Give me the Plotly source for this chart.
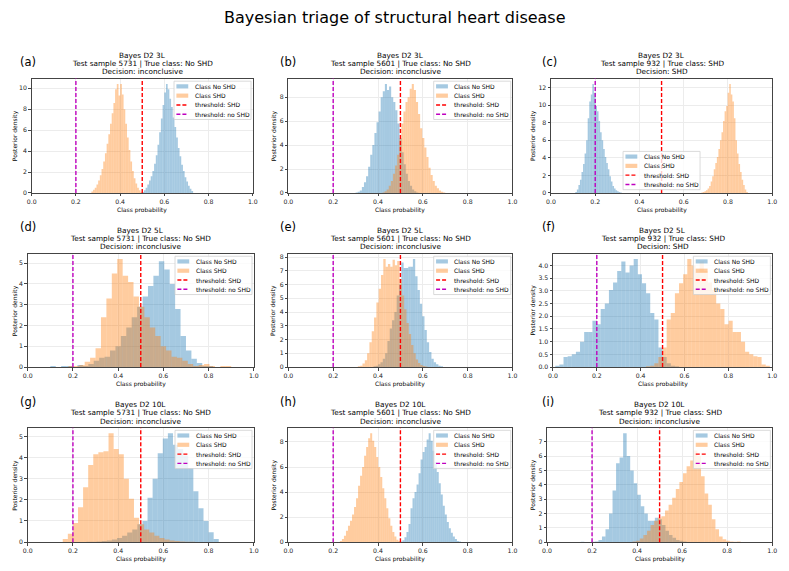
import numpy as np
import plotly.graph_objects as go

W, H = 789, 571

# ---------------- data ----------------
panel_tags = ["(a)", "(b)", "(c)", "(d)", "(e)", "(f)", "(g)", "(h)", "(i)"]
models = ["Bayes D2 3L"] * 3 + ["Bayes D2 5L"] * 3 + ["Bayes D2 10L"] * 3
sample_ids = [5731, 5601, 932] * 3
true_classes = ["No SHD", "No SHD", "SHD"] * 3
decisions = ["inconclusive", "inconclusive", "SHD",
             "inconclusive", "inconclusive", "SHD",
             "inconclusive", "inconclusive", "inconclusive"]
class_names = ["Class No SHD", "Class SHD"]
threshold_names = ["threshold: SHD", "threshold: no SHD"]
threshold_shd = 0.5
threshold_no_shd = 0.2
x_ticks = [0.0, 0.2, 0.4, 0.6, 0.8, 1.0]
y_tick_steps = [2, 2, 2, 1, 1, 0.5, 1, 2, 1]

# posterior-sample histograms: (min, max) range and 30 density values each
noshd_range_a = (0.50, 0.73)
noshd_a = [0.1, 0.25, 0.5, 0.8, 1.2, 1.6, 2.1, 2.8, 3.6, 4.6, 5.8, 7.1, 8.4, 9.6, 10.4,
           9.9, 9.0, 8.2, 7.2, 6.3, 5.3, 4.3, 3.5, 2.7, 2.1, 1.5, 1.1, 0.7, 0.4, 0.2]
shd_range_a = (0.27, 0.50)
shd_a = [0.15, 0.3, 0.5, 0.8, 1.2, 1.7, 2.3, 3.0, 3.8, 4.7, 5.6, 6.6, 7.6, 8.6, 9.9,
         10.4, 9.3, 10.4, 9.4, 8.0, 6.6, 5.3, 4.1, 3.0, 2.1, 1.4, 0.9, 0.5, 0.25, 0.1]

noshd_range_b = (0.30, 0.58)
noshd_b = [0.05, 0.1, 0.2, 0.5, 0.9, 1.4, 2.2, 3.2, 4.0, 5.0, 5.9, 6.8, 8.0, 8.5, 9.1,
           8.6, 8.9, 8.0, 7.6, 6.9, 5.8, 4.6, 3.4, 2.4, 1.6, 1.0, 0.6, 0.3, 0.15, 0.05]
shd_range_b = (0.42, 0.70)
shd_b = [0.05, 0.15, 0.3, 0.6, 1.0, 1.6, 2.3, 3.2, 4.5, 5.8, 6.8, 7.6, 8.0, 8.7, 9.1,
         8.6, 7.6, 6.6, 5.4, 4.6, 3.8, 3.0, 2.1, 1.5, 1.0, 0.6, 0.4, 0.2, 0.1, 0.05]

noshd_range_c = (0.11, 0.32)
noshd_c = [0.1, 0.4, 0.9, 1.5, 2.4, 3.3, 4.5, 6.0, 8.5, 10.4, 11.2, 12.4, 11.4, 9.9, 9.3,
           8.2, 6.9, 6.0, 5.0, 4.1, 3.4, 2.7, 1.9, 1.3, 0.8, 0.5, 0.3, 0.2, 0.1, 0.05]
shd_range_c = (0.68, 0.89)
shd_c = [0.05, 0.1, 0.2, 0.3, 0.5, 0.8, 1.3, 1.9, 2.7, 3.4, 4.1, 5.0, 6.0, 6.9, 8.2,
         9.3, 9.9, 11.4, 12.4, 11.2, 10.4, 8.5, 6.0, 4.5, 3.3, 2.4, 1.5, 0.9, 0.4, 0.1]

noshd_range_d = (0.10, 0.82)
noshd_d = [0.05, 0.0, 0.05, 0.05, 0.0, 0.1, 0.05, 0.15, 0.3, 0.45, 0.5, 0.8, 1.0, 1.5, 1.9,
           2.4, 2.9, 3.4, 3.9, 4.4, 5.1, 4.7, 4.0, 2.8, 1.5, 0.8, 0.4, 0.2, 0.05, 0.05]
shd_range_d = (0.18, 0.90)
shd_d = [0.05, 0.05, 0.1, 0.25, 0.45, 0.9, 2.4, 3.3, 4.5, 5.2, 4.4, 4.1, 3.4, 2.9, 2.4,
         1.9, 1.5, 1.0, 0.8, 0.5, 0.45, 0.3, 0.15, 0.05, 0.1, 0.15, 0.05, 0.0, 0.05, 0.05]

noshd_range_e = (0.38, 0.69)
noshd_e = [0.05, 0.1, 0.2, 0.35, 0.6, 1.0, 1.9, 2.8, 3.4, 4.0, 5.2, 6.0, 7.6, 7.2, 7.2,
           7.3, 7.3, 7.85, 6.6, 5.6, 4.6, 3.7, 2.7, 1.8, 1.1, 0.6, 0.35, 0.2, 0.1, 0.05]
shd_range_e = (0.31, 0.62)
shd_e = [0.05, 0.1, 0.25, 0.5, 1.0, 1.8, 2.6, 3.6, 4.7, 5.7, 6.7, 7.85, 7.3, 7.5, 7.3,
         7.8, 7.4, 7.7, 6.4, 5.2, 4.2, 3.2, 2.4, 1.6, 1.0, 0.55, 0.3, 0.15, 0.08, 0.04]

noshd_range_f = (0.0105, 0.5755)
noshd_f = [0.05, 0.1, 0.4, 0.43, 0.5, 0.6, 1.0, 1.38, 1.38, 1.82, 1.68, 2.28, 2.5, 3.03, 3.33,
           3.78, 4.15, 3.72, 4.0, 4.25, 3.65, 3.3, 2.9, 2.13, 1.87, 0.77, 0.4, 0.15, 0.05, 0.03]
shd_range_f = (0.4245, 0.9895)
shd_f = [0.03, 0.05, 0.15, 0.4, 0.77, 1.87, 2.13, 2.9, 3.3, 3.65, 4.25, 4.0, 3.72, 4.15, 3.78,
         3.33, 3.03, 2.5, 2.28, 1.68, 1.82, 1.38, 1.38, 1.0, 0.6, 0.5, 0.43, 0.4, 0.1, 0.05]

noshd_range_g = (0.17, 0.845)
noshd_g = [0.0, 0.0, 0.0, 0.0, 0.02, 0.02, 0.03, 0.05, 0.08, 0.12, 0.2, 0.3, 0.45, 0.6, 0.85,
           1.0, 2.1, 3.0, 4.2, 4.9, 5.15, 4.6, 4.4, 4.1, 3.5, 2.4, 1.6, 1.0, 0.47, 0.15]
shd_range_g = (0.155, 0.83)
shd_g = [0.15, 0.4, 0.9, 1.65, 2.6, 3.65, 4.15, 4.25, 4.3, 5.15, 4.4, 4.15, 3.0, 2.05, 1.15,
         0.85, 0.6, 0.45, 0.3, 0.2, 0.12, 0.08, 0.05, 0.03, 0.02, 0.02, 0.0, 0.0, 0.0, 0.0]

noshd_range_h = (0.50, 0.77)
noshd_h = [0.05, 0.15, 0.4, 0.8, 1.45, 2.7, 3.5, 4.0, 4.6, 5.5, 6.6, 7.2, 7.6, 8.2, 8.7,
           8.1, 7.3, 6.4, 5.6, 4.7, 3.8, 2.9, 2.2, 1.6, 1.1, 0.75, 0.45, 0.25, 0.1, 0.05]
shd_range_h = (0.23, 0.50)
shd_h = [0.1, 0.25, 0.5, 0.9, 1.3, 1.7, 2.2, 2.8, 3.5, 4.5, 5.3, 6.0, 6.9, 7.6, 8.3,
         8.7, 8.1, 7.6, 6.8, 6.0, 5.2, 4.3, 3.5, 2.7, 1.9, 1.3, 0.8, 0.45, 0.2, 0.1]

noshd_range_i = (0.15, 0.62)
noshd_i = [0.03, 0.0, 0.0, 0.02, 0.05, 0.15, 0.4, 0.9, 2.0, 3.6, 5.5, 5.9, 7.6, 6.0, 5.0,
           4.1, 3.3, 2.5, 2.0, 1.5, 1.5, 1.7, 1.6, 1.2, 0.8, 0.5, 0.3, 0.15, 0.1, 0.05]
shd_range_i = (0.38, 0.86)
shd_i = [0.05, 0.1, 0.25, 0.5, 0.8, 1.2, 1.5, 1.7, 1.8, 2.2, 2.6, 3.1, 3.7, 4.2, 4.8,
         5.3, 5.7, 6.4, 6.0, 4.6, 3.4, 2.6, 1.6, 0.9, 0.4, 0.2, 0.1, 0.05, 0.03, 0.05]

noshd_ranges = [noshd_range_a, noshd_range_b, noshd_range_c, noshd_range_d, noshd_range_e,
                noshd_range_f, noshd_range_g, noshd_range_h, noshd_range_i]
noshd_dens = [noshd_a, noshd_b, noshd_c, noshd_d, noshd_e, noshd_f, noshd_g, noshd_h, noshd_i]
shd_ranges = [shd_range_a, shd_range_b, shd_range_c, shd_range_d, shd_range_e,
              shd_range_f, shd_range_g, shd_range_h, shd_range_i]
shd_dens = [shd_a, shd_b, shd_c, shd_d, shd_e, shd_f, shd_g, shd_h, shd_i]

# ---------------- layout geometry (pixels) ----------------
# (left, right, top, bottom) of each axes box
axes_px = [(27, 251, 79, 194), (287, 514, 79, 194), (553, 777, 79, 194),
           (23, 252, 255, 369), (287, 514, 255, 369), (555, 777, 255, 369),
           (23, 252, 430, 545), (287, 514, 430, 545), (549, 777, 430, 545)]
ylabel_x = [9.5, 272, 535, 10, 272, 535, 10, 272, 535]
tag_x = [13, 277, 542] * 3
tag_y = [62, 62, 62, 228, 228, 228, 404, 404, 404]
legend_loc = ["ur", "ur", "lc", "ur", "ur", "ur", "ur", "ur", "ur"]

BLUE = "rgba(31,119,180,0.4)"
ORANGE = "rgba(255,127,14,0.4)"
RED = "#ff0000"
MAGENTA = "#bf00bf"
FONT = "DejaVu Sans"


def fx(px):
    return px / W


def fy(py):
    return 1 - py / H


fig = go.Figure()
layout = dict(width=W, height=H, margin=dict(l=0, r=0, t=0, b=0),
              paper_bgcolor="white", plot_bgcolor="white", showlegend=False,
              barmode="overlay", font=dict(family=FONT, color="#000"))
shapes = []
annotations = []

annotations.append(dict(text="Bayesian triage of structural heart disease", x=fx(395), y=fy(18),
                        xref="paper", yref="paper", showarrow=False, xanchor="center",
                        yanchor="middle", font=dict(size=16, family=FONT, color="#000")))

for k in range(9):
    sfx = "" if k == 0 else str(k + 1)
    xref, yref = "x" + sfx, "y" + sfx
    left, right, top, bottom = axes_px[k]
    ymax = 1.05 * max(max(noshd_dens[k]), max(shd_dens[k]))

    for rng, dens, color in [(noshd_ranges[k], noshd_dens[k], BLUE),
                             (shd_ranges[k], shd_dens[k], ORANGE)]:
        edges = np.linspace(rng[0], rng[1], len(dens) + 1)
        centers = (edges[:-1] + edges[1:]) / 2
        widths = np.diff(edges)
        fig.add_trace(go.Bar(x=centers, y=dens, width=widths, xaxis=xref, yaxis=yref,
                             marker=dict(color=color, line=dict(width=0)),
                             hoverinfo="skip", showlegend=False))

    step = y_tick_steps[k]
    axis_common = dict(showgrid=True, gridcolor="#ececec", gridwidth=0.8, zeroline=False,
                       showline=True, mirror=True, linecolor="#444", linewidth=0.9,
                       ticks="outside", ticklen=2.5, tickwidth=0.8, tickcolor="#444",
                       tickfont=dict(size=6.2, family=FONT, color="#222"))
    layout["xaxis" + sfx] = dict(domain=[fx(left), fx(right)], anchor=yref, range=[0, 1],
                                 tickvals=x_ticks, ticktext=[f"{v:.1f}" for v in x_ticks],
                                 **axis_common)
    layout["yaxis" + sfx] = dict(domain=[fy(bottom), fy(top)], anchor=xref, range=[0, ymax],
                                 tick0=0, dtick=step,
                                 tickformat=".1f" if step < 1 else "d", **axis_common)

    # threshold lines
    for thr, col in [(threshold_shd, RED), (threshold_no_shd, MAGENTA)]:
        shapes.append(dict(type="line", xref=xref, yref=yref + " domain", x0=thr, x1=thr,
                           y0=0, y1=1, line=dict(color=col, width=1.4, dash="4px,2px")))

    # titles
    cx = (left + right) / 2
    lines = [models[k], f"Test sample {sample_ids[k]} | True class: {true_classes[k]}",
             f"Decision: {decisions[k]}"]
    for j, t in enumerate(lines):
        annotations.append(dict(text=t, x=fx(cx), y=fy(top - 23.5 + 8.4 * j), xref="paper",
                                yref="paper", showarrow=False, xanchor="center",
                                yanchor="middle", font=dict(size=7.3, family=FONT, color="#000")))
    annotations.append(dict(text=panel_tags[k], x=fx(tag_x[k]), y=fy(tag_y[k]), xref="paper",
                            yref="paper", showarrow=False, xanchor="left", yanchor="middle",
                            font=dict(size=11.5, family=FONT, color="#000")))
    annotations.append(dict(text="Class probability", x=fx(cx), y=fy(bottom + 17),
                            xref="paper", yref="paper", showarrow=False, xanchor="center",
                            yanchor="middle", font=dict(size=6, family=FONT, color="#000")))
    annotations.append(dict(text="Posterior density", x=fx(ylabel_x[k]), y=fy((top + bottom) / 2),
                            xref="paper", yref="paper", showarrow=False, textangle=-90,
                            xanchor="center", yanchor="middle",
                            font=dict(size=6, family=FONT, color="#000")))

    # legend box
    bw, bh = 78, 38.5
    if legend_loc[k] == "ur":
        bx, by = right - 1.8 - bw, top + 2.6
    else:
        bx, by = cx - bw / 2, bottom - 3.3 - bh
    shapes.append(dict(type="rect", xref="paper", yref="paper", x0=fx(bx), x1=fx(bx + bw),
                       y0=fy(by + bh), y1=fy(by), fillcolor="rgba(255,255,255,0.8)",
                       line=dict(color="#d0d0d0", width=0.8)))
    labels = class_names + threshold_names
    for j, lab in enumerate(labels):
        yc = by + 5.2 + 9.35 * j
        if j < 2:
            shapes.append(dict(type="rect", xref="paper", yref="paper", x0=fx(bx + 2.4),
                               x1=fx(bx + 14.4), y0=fy(yc + 2.1), y1=fy(yc - 2.1),
                               fillcolor=BLUE if j == 0 else ORANGE, line=dict(width=0)))
        else:
            shapes.append(dict(type="line", xref="paper", yref="paper", x0=fx(bx + 2.4),
                               x1=fx(bx + 14.4), y0=fy(yc), y1=fy(yc),
                               line=dict(color=RED if j == 2 else MAGENTA, width=1.4,
                                         dash="4px,2px")))
        annotations.append(dict(text=lab, x=fx(bx + 19), y=fy(yc), xref="paper", yref="paper",
                                showarrow=False, xanchor="left", yanchor="middle",
                                font=dict(size=6, family=FONT, color="#000")))

layout["shapes"] = shapes
layout["annotations"] = annotations
fig.update_layout(**layout)
fig.write_html("out.html")
